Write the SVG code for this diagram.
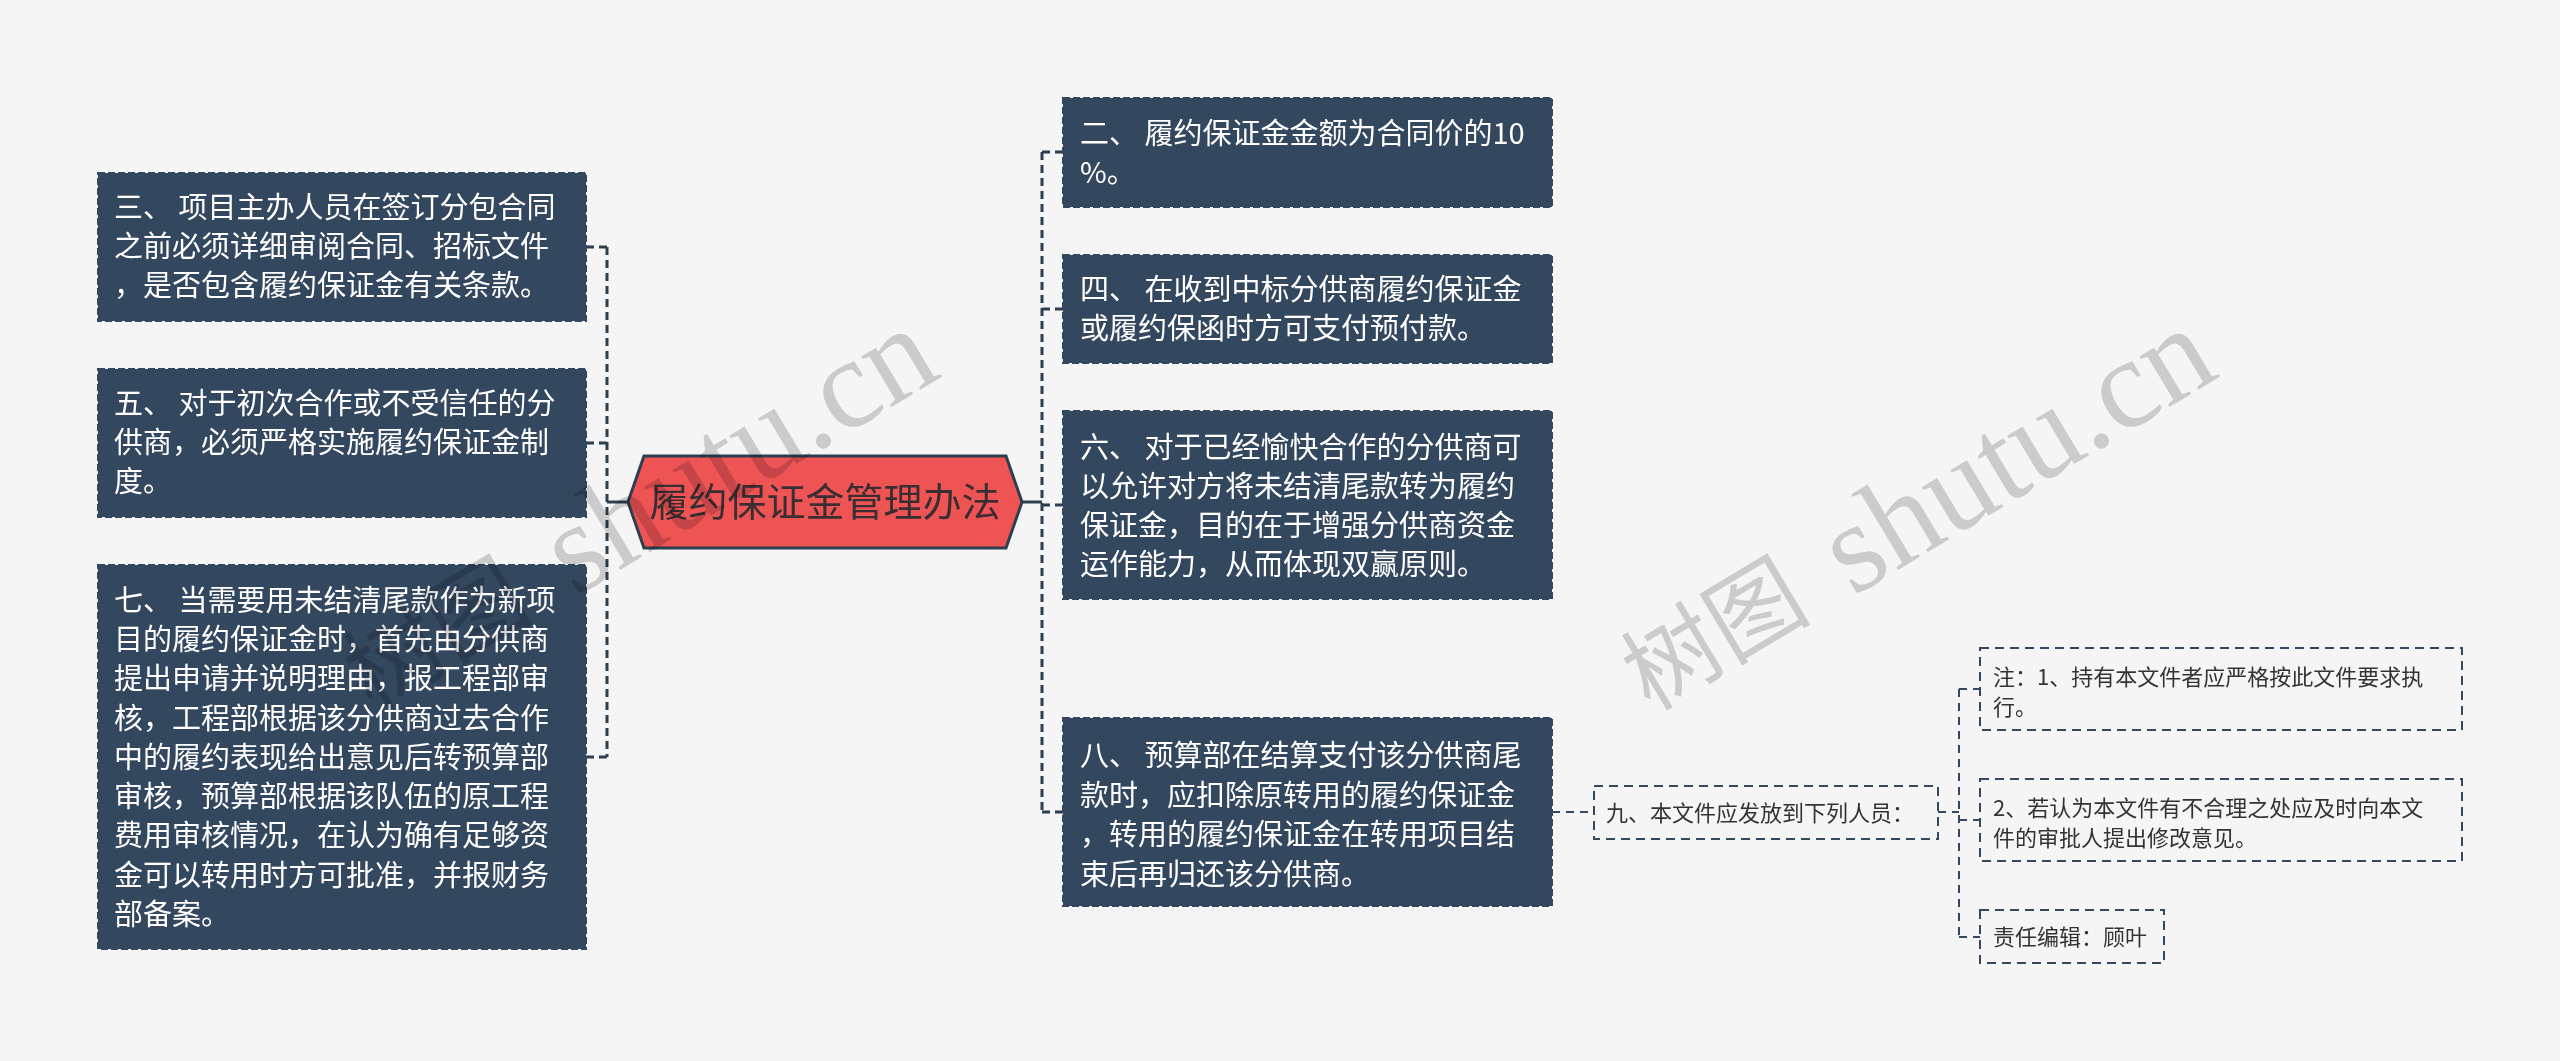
<svg xmlns="http://www.w3.org/2000/svg" width="2560" height="1061" viewBox="0 0 2560 1061">
<defs>
<style>
.bg{fill:#f5f5f5}
.box{fill:#33475f;stroke:#33475f;stroke-width:2;stroke-dasharray:7 3}
.t{font-family:"Noto Sans CJK SC","Noto Sans",sans-serif;font-size:29px;fill:#ffffff}
.sbox{fill:none;stroke:#33475f;stroke-width:2;stroke-dasharray:9 6}
.st{font-family:"Noto Sans CJK SC","Noto Sans",sans-serif;font-size:22px;fill:#333333}
.c{fill:none;stroke:#2c3e50;stroke-width:3;stroke-dasharray:8 5}
.cs{fill:none;stroke:#2c3e50;stroke-width:3}
.c2{fill:none;stroke:#33475f;stroke-width:2;stroke-dasharray:8 6}
.wm{font-family:"Liberation Serif","Noto Sans CJK SC",serif;fill:#d4d4d4;mix-blend-mode:multiply}
.wc{font-size:95px}
.wl{font-size:128px}
</style>
</defs>
<rect class="bg" x="0" y="0" width="2560" height="1061"/>

<g id="connectors">
<path class="cs" d="M607,502 H628"/>
<path class="c" d="M607,247 V757"/>
<path class="c" d="M586,247 H607 M586,443 H607 M586,757 H607"/>
<path class="cs" d="M1022,502 H1042"/>
<path class="c" d="M1042,152 V812"/>
<path class="c" d="M1042,152 H1063 M1042,309 H1063 M1042,505 H1063 M1042,812 H1063"/>
<path class="c2" d="M1552,812 H1594"/>
<path class="c2" d="M1938,812 H1959"/>
<path class="c2" d="M1959,689 V937"/>
<path class="c2" d="M1959,689 H1980 M1959,820 H1980 M1959,937 H1980"/>
</g>

<g id="root">
<polygon points="628,502 644,456 1006,456 1022,502 1006,548 644,548" fill="#ef5455" stroke="#2c3e50" stroke-width="3"/>
<text x="825" y="516" text-anchor="middle" font-family="Noto Sans CJK SC, Noto Sans, sans-serif" font-size="39" fill="#3a2e33">履约保证金管理办法</text>
</g>

<g id="n3">
<rect class="box" x="98" y="173" width="488" height="148"/>
<text class="t"><tspan x="114" y="218">三、 项目主办人员在签订分包合同</tspan><tspan x="114" y="257">之前必须详细审阅合同、招标文件</tspan><tspan x="114" y="296">，是否包含履约保证金有关条款。</tspan></text>
</g>
<g id="n5">
<rect class="box" x="98" y="369" width="488" height="148"/>
<text class="t"><tspan x="114" y="414">五、 对于初次合作或不受信任的分</tspan><tspan x="114" y="453">供商，必须严格实施履约保证金制</tspan><tspan x="114" y="492">度。</tspan></text>
</g>
<g id="n7">
<rect class="box" x="98" y="565" width="488" height="384"/>
<text class="t"><tspan x="114" y="611">七、 当需要用未结清尾款作为新项</tspan><tspan x="114" y="650">目的履约保证金时，首先由分供商</tspan><tspan x="114" y="689">提出申请并说明理由，报工程部审</tspan><tspan x="114" y="729">核，工程部根据该分供商过去合作</tspan><tspan x="114" y="768">中的履约表现给出意见后转预算部</tspan><tspan x="114" y="807">审核，预算部根据该队伍的原工程</tspan><tspan x="114" y="846">费用审核情况，在认为确有足够资</tspan><tspan x="114" y="886">金可以转用时方可批准，并报财务</tspan><tspan x="114" y="925">部备案。</tspan></text>
</g>

<g id="n2">
<rect class="box" x="1063" y="98" width="489" height="109"/>
<text class="t"><tspan x="1080" y="144">二、 履约保证金金额为合同价的10</tspan><tspan x="1080" y="183">%。</tspan></text>
</g>
<g id="n4">
<rect class="box" x="1063" y="255" width="489" height="108"/>
<text class="t"><tspan x="1080" y="300">四、 在收到中标分供商履约保证金</tspan><tspan x="1080" y="339">或履约保函时方可支付预付款。</tspan></text>
</g>
<g id="n6">
<rect class="box" x="1063" y="411" width="489" height="188"/>
<text class="t"><tspan x="1080" y="458">六、 对于已经愉快合作的分供商可</tspan><tspan x="1080" y="497">以允许对方将未结清尾款转为履约</tspan><tspan x="1080" y="536">保证金，目的在于增强分供商资金</tspan><tspan x="1080" y="575">运作能力，从而体现双赢原则。</tspan></text>
</g>
<g id="n8">
<rect class="box" x="1063" y="718" width="489" height="188"/>
<text class="t"><tspan x="1080" y="766">八、 预算部在结算支付该分供商尾</tspan><tspan x="1080" y="806">款时，应扣除原转用的履约保证金</tspan><tspan x="1080" y="845">，转用的履约保证金在转用项目结</tspan><tspan x="1080" y="885">束后再归还该分供商。</tspan></text>
</g>

<g id="n9">
<rect class="sbox" x="1594" y="786" width="344" height="53"/>
<text class="st" x="1606" y="821">九、本文件应发放到下列人员：</text>
</g>
<g id="note1">
<rect class="sbox" x="1980" y="648" width="482" height="82"/>
<text class="st"><tspan x="1993" y="685">注：1、持有本文件者应严格按此文件要求执</tspan><tspan x="1993" y="715">行。</tspan></text>
</g>
<g id="note2">
<rect class="sbox" x="1980" y="779" width="482" height="82"/>
<text class="st"><tspan x="1993" y="816">2、若认为本文件有不合理之处应及时向本文</tspan><tspan x="1993" y="846">件的审批人提出修改意见。</tspan></text>
</g>
<g id="editor">
<rect class="sbox" x="1980" y="910" width="184" height="53"/>
<text class="st" x="1993" y="945">责任编辑：顾叶</text>
</g>

<g id="watermarks">
<text class="wm wc" transform="translate(372,712) rotate(-31)">树图</text>
<text class="wm wl" transform="translate(575,597) rotate(-31)">shutu.cn</text>
<text class="wm wc" transform="translate(1650,712) rotate(-31)">树图</text>
<text class="wm wl" transform="translate(1853,597) rotate(-31)">shutu.cn</text>
</g>
</svg>
